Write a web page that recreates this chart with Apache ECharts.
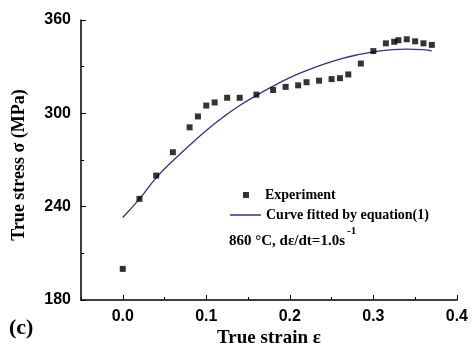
<!DOCTYPE html>
<html><head><meta charset="utf-8">
<script src="https://cdn.jsdelivr.net/npm/echarts@6/dist/echarts.min.js"></script>
<style>html,body{margin:0;padding:0;background:#fff}#c{width:471px;height:349px}</style>
</head><body><div id="c"></div>
<script>
const expStrain = [0, 0.02, 0.04, 0.06, 0.08, 0.09, 0.10, 0.11, 0.125, 0.14, 0.16, 0.18, 0.195, 0.21, 0.22, 0.235, 0.25, 0.26, 0.27, 0.285, 0.30, 0.315, 0.325, 0.33, 0.34, 0.35, 0.36, 0.37];
const expStress = [200, 245, 260, 275, 291, 298, 305, 307, 310, 310, 312, 315, 317, 318, 320, 321, 322, 322.6, 325, 332, 340, 345, 346, 347, 347.6, 346.3, 345, 344];
const fitStrain = [0, 0.02, 0.04, 0.06, 0.08, 0.10, 0.12, 0.14, 0.16, 0.18, 0.20, 0.22, 0.24, 0.26, 0.28, 0.30, 0.32, 0.34, 0.36, 0.37];
const fitStress = [233, 245, 258.5, 269.5, 279.5, 289, 297.5, 305, 311.5, 317.5, 323, 327.5, 331.5, 334.8, 337.5, 339.5, 340.8, 341.3, 340.9, 340.2];
const xMajorTicks = [0, 0.1, 0.2, 0.3, 0.4];
const yTicks = [180, 240, 300, 360];

const chart = echarts.init(document.getElementById('c'), null, {renderer: 'canvas'});
const sans = 'Liberation Sans, Arial, sans-serif';
const serif = 'Liberation Serif, Times New Roman, serif';
const axisLine = {show: true, onZero: false, lineStyle: {color: '#000', width: 1.5}};
chart.setOption({
  animation: false,
  backgroundColor: '#fff',
  grid: {left: 81, right: 11, top: 20, bottom: 49},
  xAxis: [{
    type: 'value', min: -0.05, max: 0.4, interval: 0.05,
    axisLine: axisLine,
    axisTick: {show: true, inside: true, length: 3, lineStyle: {color: '#000', width: 1}},
    splitLine: {show: false},
    axisLabel: {show: true, margin: 9, color: '#000', fontFamily: sans, fontWeight: 'bold', fontSize: 16,
      customValues: xMajorTicks,
      formatter: v => v.toFixed(1)}
  }, {
    type: 'value', min: -0.05, max: 0.4, position: 'bottom', gridIndex: 0,
    axisLine: {show: false, onZero: false},
    axisTick: {show: true, inside: true, length: 5, customValues: xMajorTicks, lineStyle: {color: '#000', width: 1}},
    axisLabel: {show: false}, splitLine: {show: false}
  }],
  yAxis: {
    type: 'value', min: 180, max: 360, interval: 60,
    axisLine: axisLine,
    axisTick: {show: true, inside: true, length: 5, lineStyle: {color: '#000', width: 1}},
    minorTick: {show: true, splitNumber: 2, length: 3, lineStyle: {color: '#000', width: 1}},
    splitLine: {show: false},
    axisLabel: {margin: 10, color: '#000', fontFamily: sans, fontWeight: 'bold', fontSize: 16,
      customValues: yTicks}
  },
  legend: [{
    left: 243, top: 188, orient: 'vertical', itemWidth: 6, itemHeight: 6, padding: 0,
    data: [{name: 'Experiment', icon: 'rect'}],
    textStyle: {fontFamily: serif, fontWeight: 'bold', fontSize: 14, color: '#000', padding: [0, 0, 0, 11]}
  }, {
    left: 230, top: 208, orient: 'vertical', itemWidth: 31, itemHeight: 1.5, padding: 0,
    data: [{name: 'Curve fitted by equation(1)', icon: 'rect'}],
    textStyle: {fontFamily: serif, fontWeight: 'bold', fontSize: 14, color: '#000'}
  }],
  series: [{
    name: 'Experiment', type: 'scatter', symbol: 'rect', symbolSize: 6,
    itemStyle: {color: '#000'},
    data: expStrain.map((x, i) => [x, expStress[i]]), z: 3
  }, {
    name: 'Curve fitted by equation(1)', type: 'line', symbol: 'none', smooth: true,
    lineStyle: {color: '#33308f', width: 1.3}, itemStyle: {color: '#33308f'},
    data: fitStrain.map((x, i) => [x, fitStress[i]]), z: 2
  }],
  graphic: [
    {type: 'text', x: 229, y: 241, style: {text: '860 °C, dε/dt=1.0s', font: 'bold 15px ' + serif, fill: '#000', verticalAlign: 'middle'}},
    {type: 'text', x: 347, y: 231, style: {text: '-1', font: 'bold 11px ' + serif, fill: '#000', verticalAlign: 'middle'}},
    {type: 'text', x: 269, y: 338, style: {text: 'True strain ε', font: 'bold 19px ' + serif, fill: '#000', align: 'center', verticalAlign: 'middle'}},
    {type: 'text', x: 19, y: 165, rotation: Math.PI / 2, style: {text: 'True stress σ (MPa)', font: 'bold 18px ' + serif, fill: '#000', align: 'center', verticalAlign: 'middle'}},
    {type: 'text', x: 9, y: 328, style: {text: '(c)', font: 'bold 22px ' + serif, fill: '#000', align: 'left', verticalAlign: 'middle'}}
  ]
});
</script></body></html>
